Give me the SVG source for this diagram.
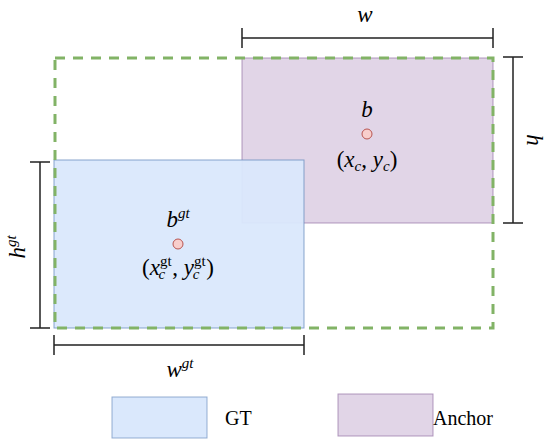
<svg xmlns="http://www.w3.org/2000/svg" width="550" height="445" viewBox="0 0 550 445">
<style>
.math{font-family:"Liberation Serif","Times New Roman",serif;font-style:italic;font-size:23px;fill:#000;text-anchor:middle}
.up{font-style:normal}
.sub{font-size:15px}
.dim{stroke:#222;stroke-width:1.5;fill:none}
.pt{fill:#f8cecc;stroke:#b85450;stroke-width:1}
.leg{font-family:"Liberation Serif","Times New Roman",serif;font-size:20px;fill:#000}
</style>
<rect width="550" height="445" fill="#fff"/>
<g id="anchor"><rect x="242" y="58" width="251" height="165" fill="#e1d5e7" stroke="#9673a6" stroke-opacity="0.7" stroke-width="1"/></g>
<g id="gt"><rect x="54" y="160" width="250" height="168" fill="#dae8fc" fill-opacity="0.95" stroke="#6c8ebf" stroke-opacity="0.8" stroke-width="1"/></g>
<g id="union"><rect x="55" y="58" width="438" height="270" fill="none" stroke="#82b366" stroke-width="3" stroke-dasharray="10,8"/></g>
<g id="connectors">
<path class="dim" d="M242,38H493M242,28V48M493,28V48"/>
<path class="dim" d="M513,57V223M503,57H523M503,223H523"/>
<path class="dim" d="M40,162V328M30,162H50M30,328H50"/>
<path class="dim" d="M54,345H304M54,335V355M304,335V355"/>
</g>
<g id="label-w"><text class="math" x="365" y="22">w</text></g>
<g id="label-h"><text class="math" transform="translate(527,140) rotate(90)">h</text></g>
<g id="label-hgt"><text class="math" transform="translate(25,247) rotate(-90)">h<tspan class="sub" dy="-9">gt</tspan></text></g>
<g id="label-wgt"><text class="math" x="180" y="377">w<tspan class="sub" dy="-9">gt</tspan></text></g>
<g id="anchor-center">
<text class="math" x="367" y="117">b</text>
<circle class="pt" cx="367" cy="134" r="5"/>
<text class="math" x="367" y="167"><tspan class="up">(</tspan>x<tspan class="sub" dy="4">c</tspan><tspan dy="-4" class="up">, </tspan>y<tspan class="sub" dy="4">c</tspan><tspan dy="-4" class="up">)</tspan></text>
</g>
<g id="gt-center">
<text class="math" x="178" y="227">b<tspan class="sub" dy="-9">gt</tspan></text>
<circle class="pt" cx="178" cy="244" r="5"/>
<text class="math" x="178" y="275"><tspan class="up">(</tspan>x<tspan class="sub up" dy="-9">gt</tspan><tspan class="sub" dx="-13" dy="13">c</tspan><tspan dx="7" dy="-4" class="up">, </tspan>y<tspan class="sub up" dy="-9">gt</tspan><tspan class="sub" dx="-13" dy="13">c</tspan><tspan dx="7" dy="-4" class="up">)</tspan></text>
</g>
<g id="legend-gt">
<rect x="112" y="397" width="95" height="41" fill="#dae8fc" stroke="#6c8ebf" stroke-opacity="0.7"/>
<text class="leg" x="225" y="425">GT</text>
</g>
<g id="legend-anchor">
<rect x="338" y="394" width="95" height="42" fill="#e1d5e7" stroke="#9673a6" stroke-opacity="0.7"/>
<text class="leg" x="433" y="425">Anchor</text>
</g>
</svg>
